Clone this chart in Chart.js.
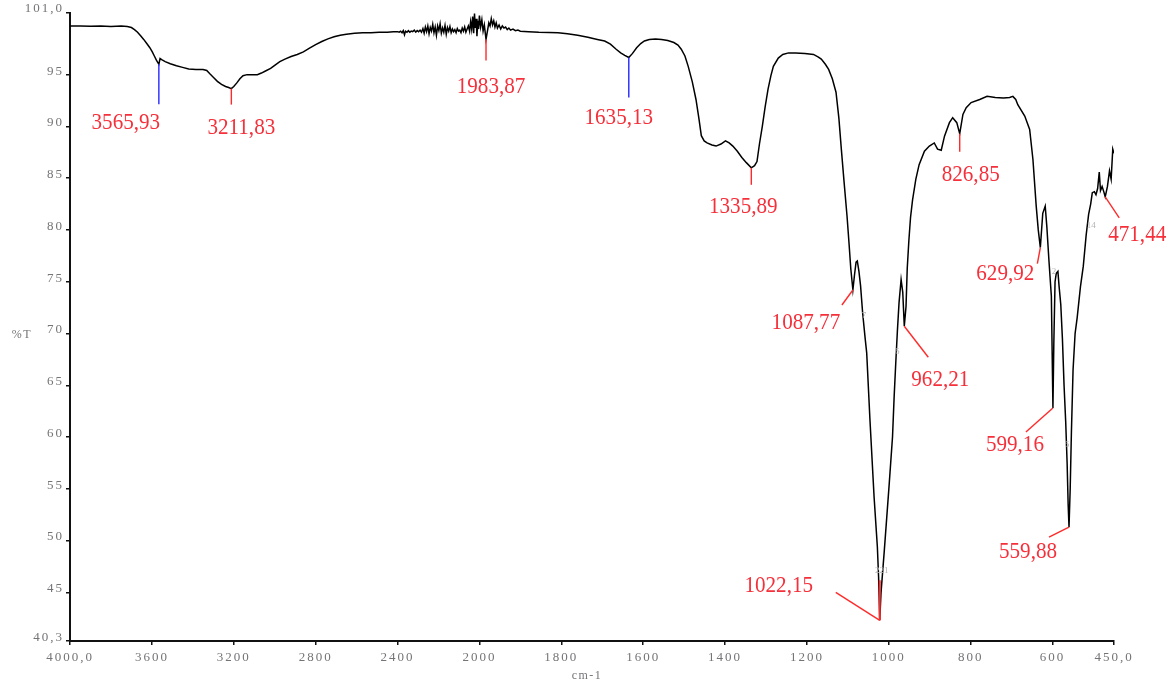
<!DOCTYPE html>
<html>
<head>
<meta charset="utf-8">
<title>FTIR %T</title>
<script src="https://cdn.jsdelivr.net/npm/chart.js@4.4.1/dist/chart.umd.min.js"></script>
<style>
  html, body { margin: 0; padding: 0; background: #ffffff; }
  #wrap { width: 1176px; height: 685px; position: relative; }
  canvas { display: block; }
</style>
</head>
<body>
<div id="wrap"><canvas id="ir"></canvas></div>
<script>
// Spectrum: wavenumber (cm-1, descending) and transmittance (%T)
const WAVENUMBERS = [
  4000, 3950, 3900, 3850, 3800, 3750, 3720, 3700, 3685, 3670, 3655, 3640, 3625, 3610, 3598, 3588, 3578,
  3565.93, 3560, 3552, 3535, 3510, 3480, 3450, 3420, 3385, 3350, 3332, 3318, 3300, 3280, 3260, 3240, 3225,
  3211.83, 3200, 3185, 3170, 3155, 3135, 3110, 3085, 3065, 3045, 3020, 3000, 2975, 2950, 2920, 2890, 2860,
  2830, 2800, 2770, 2740, 2710, 2680, 2650, 2610, 2570, 2530, 2490, 2450, 2420,
  2400, 2392, 2385, 2378, 2372, 2366, 2361, 2354, 2347, 2340, 2333, 2326, 2318, 2311, 2304, 2297, 2290,
  2283, 2276, 2270, 2264, 2258, 2252, 2246, 2240, 2234, 2228, 2222, 2216, 2210, 2204, 2198, 2192, 2186,
  2180, 2174, 2168, 2162, 2156, 2150, 2144, 2138, 2132, 2126, 2120, 2114, 2108, 2102, 2096, 2090, 2084,
  2078, 2072, 2066, 2060, 2054, 2048, 2043, 2038, 2033, 2028, 2024, 2020, 2016, 2012, 2008, 2004, 2000,
  1997, 1994, 1991, 1988, 1983.87, 1980, 1977, 1974, 1971, 1968, 1965, 1962, 1959, 1956, 1952, 1948, 1944,
  1940, 1936, 1932, 1928, 1924, 1918, 1912, 1906, 1900,
  1880, 1855, 1830, 1808, 1785, 1760, 1735, 1712, 1694, 1680, 1666, 1655, 1645, 1635.13, 1626, 1616, 1606,
  1597, 1585, 1570, 1555, 1540, 1525, 1515, 1507, 1498, 1490, 1480, 1471, 1464, 1458, 1451, 1444, 1432,
  1422, 1410, 1399, 1390, 1381, 1370, 1359, 1348, 1335.89, 1328, 1322, 1316, 1309, 1302, 1295, 1288, 1282,
  1270, 1259, 1245, 1228, 1205, 1184, 1172, 1165, 1155, 1147, 1138, 1129, 1122, 1116, 1109, 1102, 1097,
  1093, 1087.77, 1084, 1080, 1077, 1073, 1069, 1064, 1058, 1054, 1046, 1036, 1028, 1025, 1022.15, 1019,
  1011, 999, 991, 987, 983, 979, 975, 970, 966, 962.21, 958, 955, 951, 947, 942, 934, 926, 913, 901, 889,
  881, 872, 864, 852, 844, 834, 826.85, 819, 811, 799, 778, 760, 740, 720, 705, 697, 690, 685, 668, 656,
  648, 640, 635, 629.92, 624, 618, 614, 609, 603, 601, 599.16, 597, 594, 591, 587, 584, 580, 576, 572, 568,
  564.5, 562, 559.88, 557, 554, 550, 545, 540, 532, 525, 518, 512, 507, 503, 498, 494, 490, 486, 483, 479,
  475, 471.44, 466, 461, 457, 453, 450
];
const TRANSMITTANCE = [
  99.7, 99.7, 99.68, 99.7, 99.66, 99.7, 99.65, 99.55, 99.35, 99.1, 98.75, 98.4, 98.0, 97.6, 97.2, 96.8, 96.4,
  96.0, 96.55, 96.45, 96.25, 96.05, 95.85, 95.7, 95.55, 95.5, 95.5, 95.4, 95.1, 94.75, 94.35, 94.05, 93.85, 93.75,
  93.65, 93.85, 94.2, 94.6, 94.9, 95.0, 95.0, 95.0, 95.15, 95.35, 95.6, 95.9, 96.25, 96.5, 96.75, 96.95, 97.2,
  97.55, 97.9, 98.2, 98.45, 98.65, 98.8, 98.9, 99.0, 99.05, 99.05, 99.1, 99.1, 99.15,
  99.15, 99.1, 99.2, 99.05, 99.25, 98.85, 99.2, 99.1, 99.25, 99.1, 99.2, 99.15, 99.3, 99.1, 99.25, 99.15, 99.3,
  99.1, 99.45, 99.0, 99.6, 99.15, 99.7, 98.95, 99.55, 99.2, 99.85, 99.05, 99.6, 98.8, 99.7, 99.25, 99.9, 99.0,
  99.5, 99.1, 99.75, 98.9, 99.55, 99.2, 99.65, 99.05, 99.4, 99.15, 99.35, 99.05, 99.45, 99.2, 99.3, 99.05, 99.5,
  99.2, 99.6, 99.1, 99.4, 99.7, 99.2, 100.1, 99.4, 100.6, 99.0, 100.9, 99.5, 100.4, 98.7, 100.2, 99.4, 100.7,
  99.6, 100.3, 99.2, 99.8, 98.4, 99.3, 100.0, 99.7, 100.4, 99.8, 100.2, 99.6, 100.0, 99.5, 99.8, 99.4, 99.7,
  99.5, 99.6, 99.35, 99.5, 99.3, 99.4, 99.25, 99.3, 99.2,
  99.15, 99.1, 99.08, 99.05, 98.95, 98.8, 98.6, 98.4, 98.25, 97.95, 97.45, 97.1, 96.85, 96.65, 97.05, 97.6, 98.0,
  98.25, 98.4, 98.45, 98.4, 98.3, 98.1, 97.85, 97.45, 96.8, 95.8, 94.3, 92.6, 90.8, 89.1, 88.6, 88.4, 88.2,
  88.1, 88.3, 88.6, 88.4, 88.1, 87.6, 87.0, 86.5, 86.0, 86.2, 86.6, 88.3, 90.0, 91.9, 93.6, 94.9, 95.8,
  96.6, 96.95, 97.1, 97.1, 97.05, 96.95, 96.7, 96.5, 96.0, 95.5, 94.6, 93.3, 90.8, 87.8, 84.5, 81.3, 78.6,
  76.3, 74.2, 75.6, 76.9, 77.0, 76.0, 74.6, 72.0, 69.6, 68.1, 61.6, 54.2, 49.4, 46.5, 42.3, 45.0,
  49.05, 55.5, 60.0, 63.9, 67.2, 70.3, 73.0, 75.2, 74.0, 70.7, 72.6, 76.3, 79.0, 81.2, 82.9, 84.9, 86.3, 87.6, 88.1, 88.4,
  87.8, 87.7, 89.06, 90.36, 90.84, 90.36, 89.3, 91.16, 91.8, 92.3, 92.6, 92.9, 92.8, 92.75, 92.8, 92.9, 92.6, 92.1, 91.0, 89.7,
  86.8, 82.3, 80.0, 78.3, 81.6, 82.3, 80.3, 77.1, 73.6, 68.0, 62.8, 69.0, 75.0, 75.8, 76.0, 74.5, 72.8, 69.5, 65.0, 61.5,
  57.5, 53.5, 51.3, 55.0, 60.5, 66.5, 70.0, 71.5, 74.5, 76.5, 79.5, 81.5, 82.5, 83.6, 83.7, 83.4, 84.0, 85.6, 83.8, 84.2,
  83.7, 83.2, 84.2, 85.7, 84.9, 87.8, 87.4
];

// Axis ticks
const X_TICKS = [4000, 3600, 3200, 2800, 2400, 2000, 1800, 1600, 1400, 1200, 1000, 800, 600, 450];
const X_TICK_LABELS = ['4000,0', '3600', '3200', '2800', '2400', '2000', '1800', '1600', '1400', '1200', '1000', '800', '600', '450,0'];
const Y_TICKS = [40.3, 45, 50, 55, 60, 65, 70, 75, 80, 85, 90, 95, 101];
const Y_TICK_LABELS = ['40,3', '45', '50', '55', '60', '65', '70', '75', '80', '85', '90', '95', '101,0'];

// Picked peaks
const PEAK_WAVENUMBERS = [3565.93, 3211.83, 1983.87, 1635.13, 1335.89, 1087.77, 1022.15, 962.21, 826.85, 629.92, 599.16, 559.88, 471.44];
const PEAK_LABELS = ['3565,93', '3211,83', '1983,87', '1635,13', '1335,89', '1087,77', '1022,15', '962,21', '826,85', '629,92', '599,16', '559,88', '471,44'];
const PEAK_TAGS = ['', '', '', '', '', '7', '221', '6', '', '', '2', '6', '14'];

// Placement of the peak markers and their labels, in pixels from the peak point
const PEAK_LAYOUT = [
  { mark: 'drop', color: '#2626ff', len: 40, dx: -33, dy: 57 },
  { mark: 'drop', color: '#ff2a2a', len: 16, dx: 10, dy: 37 },
  { mark: 'drop', color: '#ff2a2a', len: 21, dx: 5, dy: 46 },
  { mark: 'drop', color: '#2626ff', len: 40, dx: -10, dy: 58 },
  { mark: 'drop', color: '#ff2a2a', len: 17, dx: -8, dy: 37 },
  { mark: 'leader', color: '#ff2a2a', to: [-11, 15], dx: -47, dy: 31, tag: [11, 26] },
  { mark: 'leader', color: '#ff2a2a', to: [-44, -28], rise: 40, dx: -101, dy: -36, tag: [2, -50] },
  { mark: 'leader', color: '#ff2a2a', to: [24, 31], dx: 36, dy: 52, tag: [-7, 25] },
  { mark: 'drop', color: '#ff2a2a', len: 18, dx: 11, dy: 39 },
  { mark: 'leader', color: '#ff2a2a', to: [-3, 16], dx: -35, dy: 24 },
  { mark: 'leader', color: '#ff2a2a', to: [-27, 24], dx: -38, dy: 35, tag: [1, -136] },
  { mark: 'leader', color: '#ff2a2a', to: [-20, 10], dx: -41, dy: 23, tag: [-2, -82] },
  { mark: 'leader', color: '#ff2a2a', to: [14, 21], dx: 32, dy: 36, tag: [-14, 29] }
];

const SERIF = "'Liberation Serif', 'DejaVu Serif', 'Times New Roman', serif";
const AXIS_GREY = '#747478';

// Above 2000 cm-1 the axis runs at half the scale of the region below it
const SPLIT = 2000;
const compress = (w) => (w > SPLIT ? SPLIT + (w - SPLIT) / 2 : w);

class WavenumberScale extends Chart.LinearScale {
  parse(raw, index) {
    const v = super.parse(raw, index);
    return (v === null || v === undefined) ? v : compress(v);
  }
}
WavenumberScale.id = 'wavenumber';
WavenumberScale.defaults = Chart.LinearScale.defaults;
Chart.register(WavenumberScale);

const points = WAVENUMBERS.map((w, i) => ({ x: w, y: TRANSMITTANCE[i] }));

// Peak markers, labels and axis captions
const peakPlugin = {
  id: 'peakMarks',
  beforeDraw(chart) {
    chart.ctx.letterSpacing = '2px';
  },
  afterDraw(chart) {
    const ctx = chart.ctx;
    const xs = chart.scales.x;
    const ys = chart.scales.y;
    ctx.save();
    ctx.letterSpacing = '0px';
    ctx.lineWidth = 1.4;
    PEAK_WAVENUMBERS.forEach((w, i) => {
      const k = WAVENUMBERS.indexOf(w);
      const px = xs.getPixelForValue(xs.parse(w));
      const py = ys.getPixelForValue(TRANSMITTANCE[k]);
      const L = PEAK_LAYOUT[i];
      ctx.strokeStyle = L.color;
      ctx.beginPath();
      if (L.mark === 'drop') {
        ctx.moveTo(px, py);
        ctx.lineTo(px, py + L.len);
      } else {
        ctx.moveTo(px, py);
        ctx.lineTo(px + L.to[0], py + L.to[1]);
      }
      ctx.stroke();
      if (L.rise) {
        ctx.lineWidth = 2;
        ctx.beginPath();
        ctx.moveTo(px, py);
        ctx.lineTo(px, py - L.rise);
        ctx.stroke();
        ctx.lineWidth = 1.4;
      }
      // label text
      ctx.save();
      ctx.translate(px + L.dx, py + L.dy + 8);
      ctx.scale(0.88, 1);
      ctx.font = '24px ' + SERIF;
      ctx.fillStyle = '#f5303a';
      ctx.textAlign = 'center';
      ctx.textBaseline = 'alphabetic';
      ctx.fillText(PEAK_LABELS[i], 0, 0);
      ctx.restore();
      // small grey index tags
      if (PEAK_TAGS[i] && L.tag) {
        ctx.save();
        ctx.font = '9px ' + SERIF;
        ctx.fillStyle = '#b4b4b4';
        ctx.textAlign = 'center';
        ctx.textBaseline = 'middle';
        ctx.fillText(PEAK_TAGS[i], px + L.tag[0], py + L.tag[1]);
        ctx.restore();
      }
    });
    // axis captions
    ctx.font = '12px ' + SERIF;
    ctx.letterSpacing = '1.5px';
    ctx.fillStyle = AXIS_GREY;
    ctx.textAlign = 'center';
    ctx.textBaseline = 'middle';
    ctx.fillText('%T', 22, 335);
    ctx.fillText('cm-1', 587, 676);
    ctx.restore();
  }
};

new Chart(document.getElementById('ir'), {
  type: 'line',
  data: {
    datasets: [{
      data: points,
      borderColor: '#000000',
      borderWidth: 1.5,
      pointRadius: 0,
      tension: 0,
      fill: false
    }]
  },
  options: {
    responsive: true,
    maintainAspectRatio: false,
    animation: false,
    events: [],
    layout: { padding: { top: 12.5, right: 62, left: 0, bottom: 0 } },
    plugins: {
      legend: { display: false },
      tooltip: { enabled: false },
      title: { display: false }
    },
    scales: {
      x: {
        type: 'wavenumber',
        reverse: true,
        min: 450,
        max: 4000,
        bounds: 'data',
        afterBuildTicks: (scale) => { scale.ticks = X_TICKS.map(w => ({ value: compress(w) })); },
        afterFit: (scale) => { scale.height = 44; },
        grid: { drawOnChartArea: false, drawTicks: true, tickLength: 4, color: '#111', lineWidth: 1.5 },
        border: { display: true, color: '#111', width: 2 },
        ticks: {
          autoSkip: false,
          maxRotation: 0,
          minRotation: 0,
          padding: 5,
          color: AXIS_GREY,
          font: { family: SERIF, size: 13 },
          callback: (value, index) => X_TICK_LABELS[index]
        }
      },
      y: {
        type: 'linear',
        min: 40.3,
        max: 101,
        bounds: 'data',
        afterBuildTicks: (scale) => { scale.ticks = Y_TICKS.map(v => ({ value: v })); },
        afterFit: (scale) => { scale.width = 70; },
        grid: { drawOnChartArea: false, drawTicks: true, tickLength: 4, color: '#111', lineWidth: 1.5 },
        border: { display: true, color: '#111', width: 2 },
        ticks: {
          autoSkip: false,
          padding: 2,
          labelOffset: -3.5,
          color: AXIS_GREY,
          font: { family: SERIF, size: 13 },
          callback: (value, index) => Y_TICK_LABELS[index]
        }
      }
    }
  },
  plugins: [peakPlugin]
});
</script>
</body>
</html>
